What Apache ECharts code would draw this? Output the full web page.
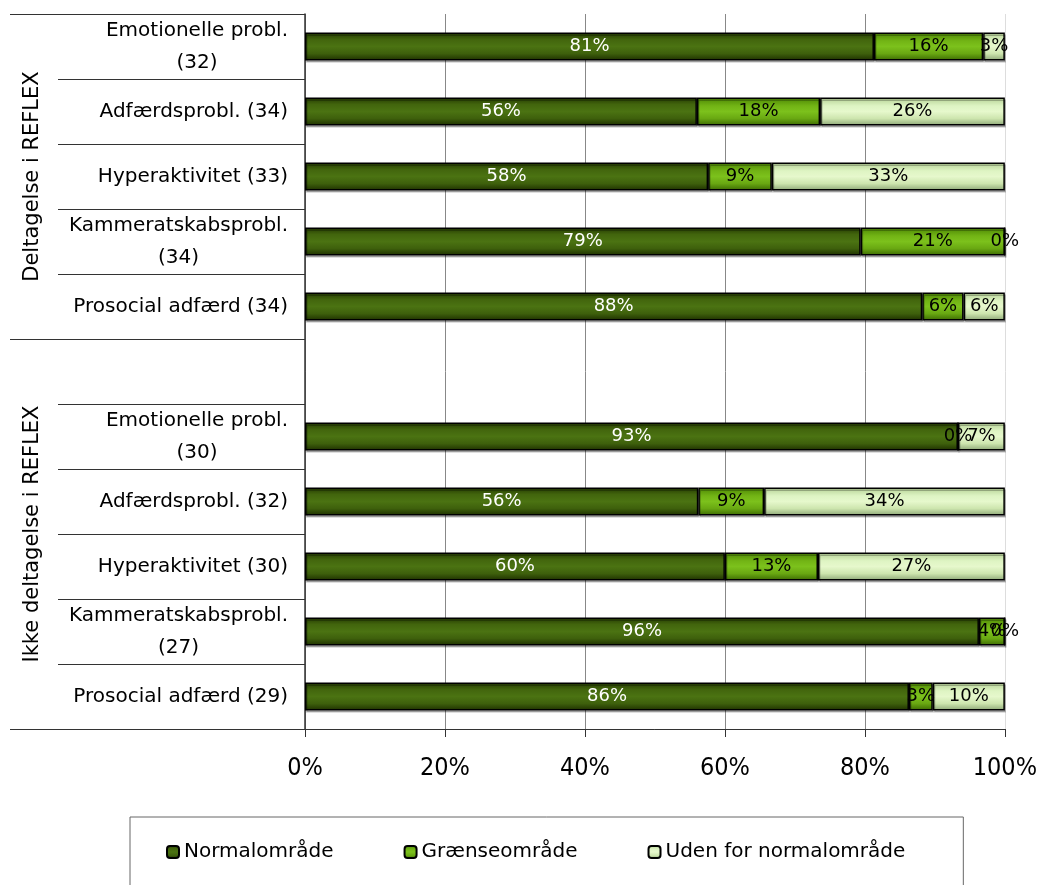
<!DOCTYPE html>
<html>
<head>
<meta charset="utf-8">
<script src="https://cdn.jsdelivr.net/npm/echarts@6/dist/echarts.min.js"></script>
<style>
  html, body { margin: 0; padding: 0; background: #fff; }
  #chart { width: 1040px; height: 885px; }
</style>
</head>
<body>
<div id="chart"></div>
<script>
// Row labels (an empty row separates the two groups)
const categories = [
  'Emotionelle probl.\n(32)',
  'Adfærdsprobl. (34)',
  'Hyperaktivitet (33)',
  'Kammeratskabsprobl.\n(34)',
  'Prosocial adfærd (34)',
  '',
  'Emotionelle probl.\n(30)',
  'Adfærdsprobl. (32)',
  'Hyperaktivitet (30)',
  'Kammeratskabsprobl.\n(27)',
  'Prosocial adfærd (29)'
];

// Group titles with the first and last row index each one spans
const groupTitles = ['Deltagelse i REFLEX', 'Ikke deltagelse i REFLEX'];
const groupSpans = [[0, 4], [5, 10]];

const seriesNames = ['Normalområde', 'Grænseområde', 'Uden for normalområde'];

// Share of children in each range (percent)
const normalValues = [81.3, 56.0, 57.6, 79.4, 88.2, null, 93.3, 56.2, 60.0, 96.3, 86.3];
const graenseValues = [15.6, 17.6, 9.1, 20.6, 5.9, null, 0, 9.4, 13.3, 3.7, 3.4];
const udenValues = [3.1, 26.4, 33.3, 0, 5.9, null, 6.7, 34.4, 26.7, 0, 10.3];

const xTicks = { min: 0, max: 100, interval: 20 };

const FONT = "'DejaVu Sans', sans-serif";
const FONT_NARROW = "'DejaVu Sans Condensed', 'DejaVu Sans', sans-serif";

function vGrad(stops) {
  return new echarts.graphic.LinearGradient(0, 0, 0, 1,
    stops.map(s => ({ offset: s[0], color: s[1] })));
}

const fills = [
  vGrad([[0, '#243a02'], [0.25, '#42650d'], [0.5, '#4b7312'], [0.75, '#3e600c'], [1, '#1e3000']]),
  vGrad([[0, '#4c8604'], [0.3, '#72b415'], [0.5, '#7cc11c'], [0.75, '#69a812'], [1, '#3c6a02']]),
  vGrad([[0, '#b4d094'], [0.3, '#def4c3'], [0.5, '#e6f8cc'], [0.75, '#cde5ae'], [1, '#8ca676']])
];
const labelColors = ['#ffffff', '#000000', '#000000'];
const valueSets = [normalValues, graenseValues, udenValues];

const chart = echarts.init(document.getElementById('chart'), null, { renderer: 'canvas' });

const series = seriesNames.map((name, i) => ({
  name: name,
  type: 'bar',
  stack: 'total',
  barWidth: 28,
  data: valueSets[i],
  itemStyle: {
    color: fills[i],
    borderColor: '#000',
    borderWidth: 1.5,
    shadowColor: 'rgba(0,0,0,0.25)',
    shadowOffsetY: 2,
    shadowOffsetX: 1
  },
  label: {
    show: true,
    position: 'inside',
    color: labelColors[i],
    fontFamily: FONT,
    fontSize: 18,
    formatter: p => (p.value == null ? '' : Math.round(p.value) + '%')
  },
  emphasis: { disabled: true }
}));

function catFormatter(v) {
  if (!v) return '';
  return v.split('\n').map(line => '{c|' + line + '}').join('\n');
}

const option = {
  animation: false,
  backgroundColor: '#ffffff',
  textStyle: { fontFamily: FONT },
  grid: { left: 305, right: 35, top: 14, bottom: 156, containLabel: false },
  legend: {
    data: seriesNames,
    left: 130,
    top: 817,
    padding: [25, 58, 27, 36],
    itemGap: 70,
    itemWidth: 12,
    itemHeight: 12,
    borderColor: '#666',
    borderWidth: 1,
    textStyle: { fontFamily: FONT, fontSize: 20, color: '#000' },
    selectedMode: false
  },
  xAxis: {
    type: 'value',
    min: xTicks.min,
    max: xTicks.max,
    interval: xTicks.interval,
    axisLine: { show: true, lineStyle: { color: '#333', width: 1 } },
    axisTick: { show: true, length: 8, lineStyle: { color: '#333' } },
    axisLabel: {
      formatter: '{value}%',
      fontFamily: FONT_NARROW,
      fontSize: 25,
      color: '#000',
      margin: 27
    },
    splitLine: {
      show: true,
      lineStyle: { color: ['#888', '#888', '#888', '#888', '#888', '#dddddd'], width: 1 }
    }
  },
  yAxis: [
    {
      type: 'category',
      inverse: true,
      data: categories,
      axisLine: { show: true, lineStyle: { color: '#333', width: 1.5 } },
      axisTick: { show: true, interval: 0, length: 247, lineStyle: { color: '#333' } },
      axisLabel: {
        interval: 0,
        margin: 17,
        color: '#000',
        fontFamily: FONT,
        fontSize: 20,
        formatter: catFormatter,
        rich: { c: { align: 'center', fontFamily: FONT, fontSize: 20, lineHeight: 32, color: '#000' } }
      },
      splitLine: { show: false }
    },
    {
      // longer ticks marking where each group starts and ends
      type: 'category',
      inverse: true,
      data: categories,
      position: 'left',
      axisLine: { show: false },
      axisTick: {
        show: true,
        interval: idx => idx === groupSpans[0][0] || idx === groupSpans[1][0],
        length: 295,
        lineStyle: { color: '#333' }
      },
      axisLabel: { show: false },
      splitLine: { show: false }
    }
  ],
  series: series
};

chart.setOption(option);

// Rotated group titles, centred on the rows each group spans
const titleGraphics = groupTitles.map((t, g) => {
  const y0 = chart.convertToPixel({ yAxisIndex: 0 }, groupSpans[g][0]);
  const y1 = chart.convertToPixel({ yAxisIndex: 0 }, groupSpans[g][1]);
  return {
    type: 'text',
    x: 33,
    y: (y0 + y1) / 2,
    rotation: Math.PI / 2,
    style: {
      text: t,
      font: '21px ' + FONT,
      fill: '#000',
      textAlign: 'center',
      textVerticalAlign: 'middle'
    }
  };
});
chart.setOption({ graphic: titleGraphics });
</script>
</body>
</html>
